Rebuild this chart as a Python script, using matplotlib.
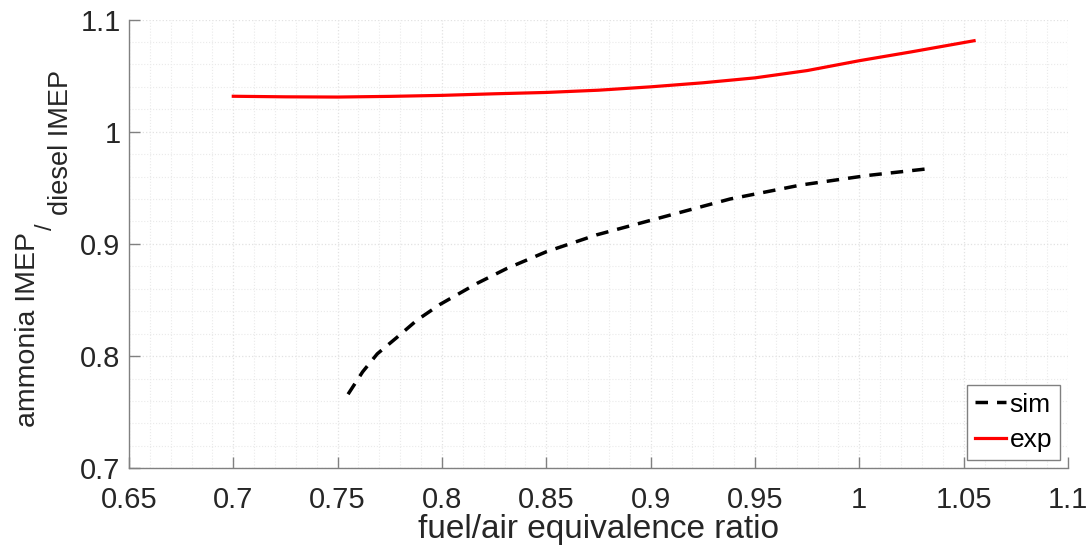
import matplotlib.pyplot as plt
from matplotlib.ticker import MultipleLocator

plt.rcParams['font.family'] = ['Liberation Sans', 'DejaVu Sans']

# simulation curve (dashed black)
sim_phi = [0.755, 0.762, 0.769, 0.778, 0.788, 0.799, 0.817, 0.831, 0.850,
           0.874, 0.906, 0.924, 0.938, 0.972, 1.004, 1.033]
sim_ratio = [0.766, 0.786, 0.802, 0.816, 0.832, 0.846, 0.865, 0.878, 0.893,
             0.908, 0.924, 0.933, 0.940, 0.9525, 0.961, 0.967]

# experimental curve (solid red)
exp_phi = [0.700, 0.725, 0.750, 0.775, 0.800, 0.825, 0.850, 0.875, 0.900,
           0.925, 0.950, 0.975, 1.000, 1.025, 1.055]
exp_ratio = [1.0316, 1.0311, 1.0309, 1.0315, 1.0324, 1.0338, 1.0350, 1.0370,
             1.0400, 1.0436, 1.0480, 1.0545, 1.0633, 1.0712, 1.0811]

fig = plt.figure(figsize=(10.91, 5.58), dpi=100)
W, H = 1091, 558
ax = fig.add_axes([0.1182, 0.1608, 0.8607, 0.8042])

ax.plot(sim_phi, sim_ratio, color='black', linewidth=2.5, linestyle=(0, (3.6, 2.6)), label='sim')
ax.plot(exp_phi, exp_ratio, color='red', linewidth=2.3, label='exp')

ax.set_xlim(0.65, 1.1)
ax.set_ylim(0.7, 1.1)
ax.xaxis.set_minor_locator(MultipleLocator(0.01))
ax.yaxis.set_minor_locator(MultipleLocator(0.02))
ax.set_xticks([0.65, 0.7, 0.75, 0.8, 0.85, 0.9, 0.95, 1.0, 1.05, 1.1])
ax.set_xticklabels(['0.65', '0.7', '0.75', '0.8', '0.85', '0.9', '0.95', '1', '1.05', '1.1'])
ax.set_yticks([0.7, 0.8, 0.9, 1.0, 1.1])
ax.set_yticklabels(['0.7', '0.8', '0.9', '1', '1.1'])

ax.grid(which='major', color='#e2e2e2', linestyle=':', linewidth=0.9)
ax.grid(which='minor', color='#eaeaea', linestyle=':', linewidth=0.8)
ax.set_axisbelow(True)

for s in ['top', 'right']:
    ax.spines[s].set_visible(False)
for s in ['left', 'bottom']:
    ax.spines[s].set_color('#808080')
    ax.spines[s].set_linewidth(1.0)

ax.tick_params(which='major', direction='in', length=8, width=1.0, color='#808080',
               labelsize=21, labelcolor='#262626')
ax.tick_params(axis='x', which='major', pad=13)
ax.tick_params(axis='y', which='major', pad=6)
ax.tick_params(which='minor', length=0)

ax.set_xlabel('fuel/air equivalence ratio', fontsize=24, color='#262626', labelpad=0)

# y label: main part plus a full-size subscript part
lab_kw = dict(rotation=90, rotation_mode='anchor', ha='left', va='baseline', color='#262626')
fig.text(35 / W, (H - 427) / H, 'ammonia IMEP', fontsize=20.5, **lab_kw)
fig.text(52 / W, (H - 230) / H, '/', fontsize=17, **lab_kw)
fig.text(68 / W, (H - 215) / H, 'diesel IMEP', fontsize=19.5, **lab_kw)

leg = ax.legend(loc='lower right', fontsize=19, handlelength=1.15, handletextpad=0.15,
                borderpad=0.3, labelspacing=0.45, fancybox=False, framealpha=1,
                borderaxespad=0.3)
leg.get_frame().set_edgecolor('#808080')
leg.get_frame().set_linewidth(1.0)

fig.savefig('out.png', dpi=100)
